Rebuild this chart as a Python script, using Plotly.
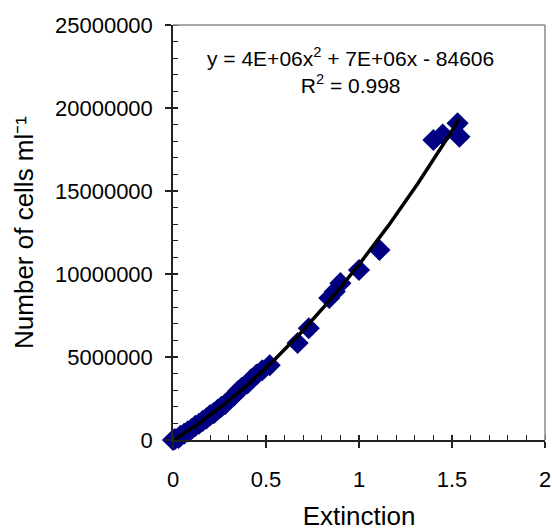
import numpy as np
import plotly.graph_objects as go

# Extinction (x) vs. number of cells per ml (y)
extinction = [0.00, 0.01, 0.03, 0.04, 0.06, 0.08, 0.10, 0.12, 0.14, 0.16, 0.18,
              0.20, 0.22, 0.24, 0.26, 0.28, 0.33, 0.35, 0.37, 0.40, 0.42, 0.45,
              0.48, 0.52, 0.67, 0.73, 0.84, 0.87, 0.90, 1.00, 1.11, 1.40, 1.45,
              1.53, 1.54]
cells = [0, 50000, 120000, 250000, 380000, 520000, 660000, 850000, 980000,
         1150000, 1300000, 1500000, 1620000, 1820000, 2000000, 2150000,
         2700000, 2950000, 3150000, 3400000, 3650000, 3950000, 4200000,
         4500000, 5840000, 6730000, 8550000, 8950000, 9450000, 10240000,
         11450000, 18070000, 18400000, 19080000, 18270000]

x_ticks = [0, 0.5, 1, 1.5, 2]
x_tick_labels = ["0", "0.5", "1", "1.5", "2"]
y_ticks = [0, 5000000, 10000000, 15000000, 20000000, 25000000]
y_tick_labels = ["0", "5000000", "10000000", "15000000", "20000000", "25000000"]
equation_text = "y = 4E+06x<sup>2</sup> + 7E+06x - 84606<br>R<sup>2</sup> = 0.998"

# quadratic trendline fitted to the data
coef = np.polyfit(extinction, cells, 2)
xfit = np.linspace(min(extinction), max(extinction), 200)
yfit = np.polyval(coef, xfit)

FONT = "Liberation Sans, Arial, sans-serif"

fig = go.Figure()
fig.add_trace(go.Scatter(
    x=extinction, y=cells, mode="markers",
    marker=dict(symbol="diamond", size=17, color="#000080", line=dict(width=0)),
    cliponaxis=False, showlegend=False, hoverinfo="x+y"))
fig.add_trace(go.Scatter(
    x=xfit, y=yfit, mode="lines", line=dict(color="black", width=3.5),
    cliponaxis=False, showlegend=False, hoverinfo="skip"))
# overlay axes to give major ticks an inside part (crossing ticks)
fig.add_trace(go.Scatter(x=[None], y=[None], xaxis="x2", yaxis="y2",
                         showlegend=False, hoverinfo="skip"))

fig.update_layout(
    width=552, height=531,
    margin=dict(l=173, r=7, t=25, b=91),
    paper_bgcolor="white", plot_bgcolor="white",
    font=dict(family=FONT, color="black"),
    xaxis=dict(
        range=[0, 2], tickvals=x_ticks, ticktext=x_tick_labels, automargin=False,
        ticks="outside", ticklen=6, tickwidth=1.5, tickcolor="#222",
        minor=dict(dtick=0.1, ticks="inside", ticklen=5, tickwidth=1, tickcolor="#222"),
        showline=True, linecolor="#222", linewidth=1.5, showgrid=False, zeroline=False,
        tickfont=dict(size=22, family=FONT), ticklabelstandoff=13,
        title=dict(text="Extinction", font=dict(size=26, family=FONT), standoff=30),
    ),
    yaxis=dict(
        range=[0, 25000000], tickvals=y_ticks, ticktext=y_tick_labels, automargin=False,
        ticks="outside", ticklen=6, tickwidth=1.5, tickcolor="#222",
        minor=dict(dtick=1000000, ticks="inside", ticklen=5, tickwidth=1, tickcolor="#222"),
        showline=True, linecolor="#222", linewidth=1.5, showgrid=False, zeroline=False,
        tickfont=dict(size=22, family=FONT), ticklabelstandoff=8,
        title=dict(text="Number of cells ml⁻¹", font=dict(size=26, family=FONT), standoff=14),
    ),
    xaxis2=dict(range=[0, 2], overlaying="x", tickvals=x_ticks, ticks="inside", ticklen=5,
                tickwidth=1.5, tickcolor="#222", showticklabels=False, showline=False,
                showgrid=False, zeroline=False, automargin=False),
    yaxis2=dict(range=[0, 25000000], overlaying="y", tickvals=y_ticks, ticks="inside",
                ticklen=5, tickwidth=1.5, tickcolor="#222", showticklabels=False,
                showline=False, showgrid=False, zeroline=False, automargin=False),
    shapes=[
        dict(type="line", xref="paper", yref="paper", x0=0, x1=1, y0=1, y1=1,
             line=dict(color="#888", width=1.5)),
        dict(type="line", xref="paper", yref="paper", x0=1, x1=1, y0=0, y1=1,
             line=dict(color="#888", width=1.5)),
    ],
    annotations=[dict(
        text=equation_text, xref="paper", yref="paper", x=0.476, y=0.89,
        xanchor="center", yanchor="middle", showarrow=False, align="center",
        font=dict(size=21, family=FONT, color="black"))],
)

fig.write_html("out.html")
